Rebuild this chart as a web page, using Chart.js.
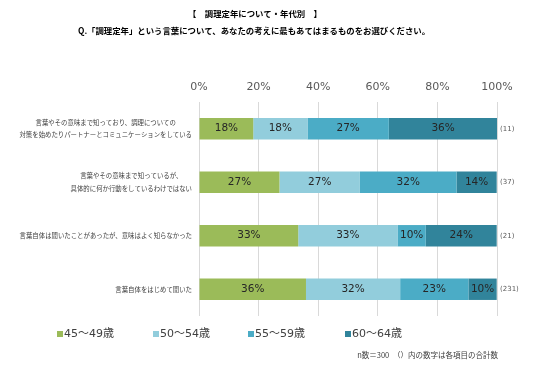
<!DOCTYPE html>
<html>
<head>
<meta charset="utf-8">
<script src="https://cdn.jsdelivr.net/npm/chart.js@4"></script>
<style>
  html, body { margin: 0; padding: 0; background: #fff; }
  #wrap { width: 536px; height: 372px; }
</style>
</head>
<body>
<div id="wrap"><canvas id="graph" width="536" height="372"></canvas></div>
<script>
var ctx = document.getElementById("graph").getContext("2d");

// answers (y axis), each split over two lines as in the original
var answers = [
    ["言葉やその意味まで知っており、調理についての", "対策を始めたりパートナーとコミュニケーションをしている"],
    ["言葉やその意味まで知っているが、", "具体的に何か行動をしているわけではない"],
    "言葉自体は聞いたことがあったが、意味はよく知らなかった",
    "言葉自体をはじめて聞いた"
];
var counts = [11, 37, 21, 231];

var ages = ["45〜49歳", "50〜54歳", "55〜59歳", "60〜64歳"];
var colors = ["#9BBB59", "#92CDDC", "#4BACC6", "#31849B"];

// percentages per age group, one value per answer
var age45 = [18.2, 27.0, 33.3, 35.9];
var age50 = [18.2, 27.0, 33.3, 31.6];
var age55 = [27.3, 32.4, 9.5, 22.9];
var age60 = [36.4, 13.5, 23.8, 9.5];

var xTicks = [0, 20, 40, 60, 80, 100];

var jp = "'Noto Sans CJK JP', sans-serif";
var num = "'DejaVu Sans', 'Noto Sans CJK JP', sans-serif";

var extras = {
    id: "extras",
    afterDatasetsDraw(chart) {
        let c = chart.ctx;
        c.save();
        // values inside each segment
        c.font = "10.5px " + num;
        c.fillStyle = "#262626";
        c.textAlign = "center";
        c.textBaseline = "middle";
        chart.data.datasets.forEach((ds, i) => {
            chart.getDatasetMeta(i).data.forEach((bar, j) => {
                c.fillText(Math.round(ds.data[j]) + "%", (bar.x + bar.base) / 2, bar.y);
            });
        });
        let y = chart.scales.y;
        let left = chart.chartArea.left;
        // answer labels: block right aligned to the axis, lines centred in the block
        c.font = "6.4px " + jp;
        c.fillStyle = "#404040";
        chart.data.labels.forEach((lab, j) => {
            let lines = Array.isArray(lab) ? lab : [lab];
            let w = Math.max(...lines.map(t => c.measureText(t).width));
            let cy = y.getPixelForValue(j);
            lines.forEach((t, k) => {
                c.fillText(t, left - 7 - w / 2, cy + (k - (lines.length - 1) / 2) * 12.5);
            });
        });
        // totals on the right
        c.font = "7px " + num;
        c.fillStyle = "#595959";
        c.textAlign = "left";
        counts.forEach((n, j) => {
            c.fillText("(" + n + ")", chart.chartArea.right + 3, y.getPixelForValue(j));
        });
        c.restore();
    },
    afterDraw(chart) {
        let c = chart.ctx;
        c.save();
        c.fillStyle = "#000";
        c.textAlign = "center";
        c.textBaseline = "middle";
        c.font = "bold 8.4px " + jp;
        c.fillText("【　調理定年について・年代別　】", 255, 14);
        c.fillText("Q.「調理定年」という言葉について、あなたの考えに最もあてはまるものをお選びください。", 254, 31);

        // legend
        c.font = "11px " + num;
        c.textAlign = "left";
        let lx = [57, 153, 248, 345];
        chart.data.datasets.forEach((ds, i) => {
            c.fillStyle = ds.backgroundColor;
            c.fillRect(lx[i], 331, 6, 6);
            c.fillStyle = "#404040";
            c.fillText(ds.label, lx[i] + 7, 334);
        });

        c.font = "7.5px " + jp;
        c.fillStyle = "#404040";
        c.textAlign = "right";
        c.fillText("n数＝300　（）内の数字は各項目の合計数", 498, 355);
        c.restore();
    }
};

var series = [age45, age50, age55, age60];

var chart = new Chart(ctx, {
    type: "bar",
    data: {
        labels: answers,
        datasets: series.map((d, i) => ({
            label: ages[i],
            data: d,
            backgroundColor: colors[i],
            categoryPercentage: 1,
            barPercentage: 0.4
        }))
    },
    options: {
        indexAxis: "y",
        responsive: false,
        animation: false,
        layout: { padding: { top: 80, left: 4, right: 39, bottom: 56 } },
        plugins: {
            legend: { display: false },
            tooltip: { enabled: false }
        },
        scales: {
            x: {
                position: "top",
                stacked: true,
                min: 0,
                max: 100,
                afterBuildTicks: s => { s.ticks = xTicks.map(v => ({ value: v })); },
                afterFit: s => { s.height = 22; },
                grid: { color: "#d9d9d9", drawTicks: false },
                border: { display: false },
                ticks: {
                    callback: v => v + "%",
                    font: { family: num, size: 11 },
                    color: "#595959",
                    padding: 8
                }
            },
            y: {
                stacked: true,
                afterFit: s => { s.width = 195; },
                grid: { display: false, drawTicks: false },
                border: { display: false },
                ticks: { display: false }
            }
        }
    },
    plugins: [extras]
});
</script>
</body>
</html>
